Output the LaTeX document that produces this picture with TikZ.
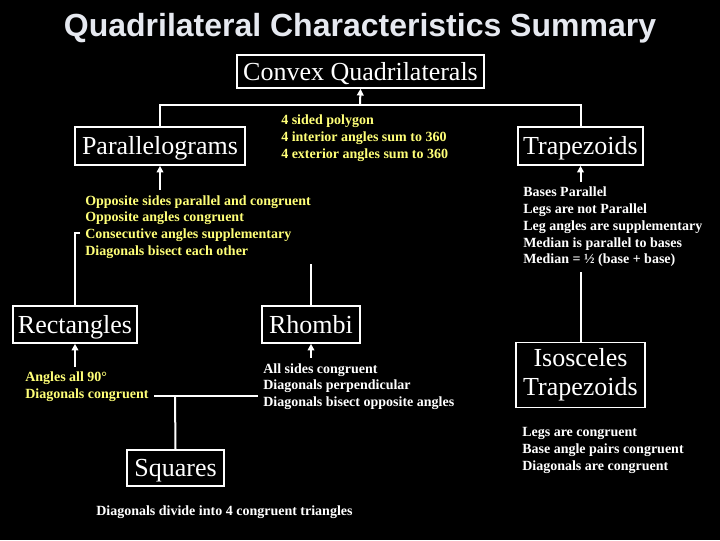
\documentclass[tikz,border=0pt]{standalone}
\usepackage{fontspec}
\setmainfont{Liberation Serif}
\newfontfamily\titlefont{Liberation Sans}
\usetikzlibrary{arrows.meta,backgrounds}
\definecolor{propyellow}{RGB}{255,255,120}
\definecolor{titlegrey}{RGB}{230,233,240}
\newlength{\pxl}
\setlength{\pxl}{0.75pt}

\begin{document}
\begin{tikzpicture}[
  x=0.75pt, y=-0.75pt,
  catbox/.style={draw=white, line width=1.2pt, text=white, inner sep=0pt,
                 align=center, font=\fontsize{19.5}{21.75}\selectfont},
  catline/.style={catbox, text height=15.5pt, text depth=2.75pt},
  props/.style={align=left, fill=black, anchor=west, inner sep=5\pxl,
                font=\bfseries\fontsize{10.5}{12.6}\selectfont},
  yprops/.style={props, text=propyellow},
  wprops/.style={props, text=white},
  link/.style={draw=white, line width=1.5pt},
  arr/.style={link, -{Triangle[length=5pt,width=5pt]}},
]
  \useasboundingbox (0,0) rectangle (720,540);

  \node[text=titlegrey, anchor=base, font=\titlefont\bfseries\fontsize{24}{28}\selectfont]
       (title) at (360,36) {Quadrilateral Characteristics Summary};

  % category boxes
  \node[catline, minimum width=247\pxl, minimum height=33\pxl] (convex) at (360.5,71.5) {Convex Quadrilaterals};
  \node[catline, minimum width=170\pxl, minimum height=38\pxl] (para) at (160,146) {Parallelograms};
  \node[catline, minimum width=125\pxl, minimum height=38\pxl] (trap) at (580.5,146) {Trapezoids};
  \node[catline, minimum width=124\pxl, minimum height=37\pxl] (rect) at (75,324.5) {Rectangles};
  \node[catline, minimum width=98\pxl,  minimum height=37\pxl] (rhombi) at (311,324.5) {Rhombi};
  \node[catbox,  minimum width=129\pxl, minimum height=65\pxl] (iso) at (580.5,375) {Isosceles\\Trapezoids};
  \node[catline, minimum width=97\pxl,  minimum height=36\pxl] (squares) at (175.5,468) {Squares};

  % properties
  \node[yprops, inner xsep=6\pxl, inner ysep=9\pxl] (quadprops) at (275,138)
       {4 sided polygon\\4 interior angles sum to 360\\4 exterior angles sum to 360};
  \node[yprops] (paraprops) at (80,227)
       {Opposite sides parallel and congruent\\Opposite angles congruent\\Consecutive angles supplementary\\Diagonals bisect each other};
  \node[wprops] (trapprops) at (518,227)
       {Bases Parallel\\Legs are not Parallel\\Leg angles are supplementary\\Median is parallel to bases\\Median = \textonehalf\ (base + base)};
  \node[yprops] (rectprops) at (20,387) {Angles all 90\textdegree\\Diagonals congruent};
  \node[wprops] (rhombprops) at (258,386.5)
       {All sides congruent\\Diagonals perpendicular\\Diagonals bisect opposite angles};
  \node[wprops] (isoprops) at (517,450.5)
       {Legs are congruent\\Base angle pairs congruent\\Diagonals are congruent};
  \node[wprops] (squareprops) at (91,512.5) {Diagonals divide into 4 congruent triangles};

  \coordinate (hub) at (360,105);
  \coordinate (pbranch) at (311,233);
  \coordinate (sqhub) at (175,396);

  % connectors, partly hidden behind the filled text
  \begin{scope}[on background layer]
    \fill[black] (0,0) rectangle (720,540);
    \draw[link] (para.north) |- (hub) -| (trap.north);
    \draw[arr] (hub) -- (convex.south);
    \draw[link] (rect.north) |- (pbranch) -- (rhombi.north);
    \draw[arr] (para.south |- pbranch) -- (para.south);
    \draw[arr] (iso.north) -- (trap.south);
    \draw[link] (rect.south |- sqhub) -- (rhombi.south |- sqhub);
    \draw[arr] (rect.south |- sqhub) -- (rect.south);
    \draw[arr] (rhombi.south |- sqhub) -- (rhombi.south);
    \draw[link] (sqhub) -- (squares.north);
  \end{scope}
\end{tikzpicture}
\end{document}
